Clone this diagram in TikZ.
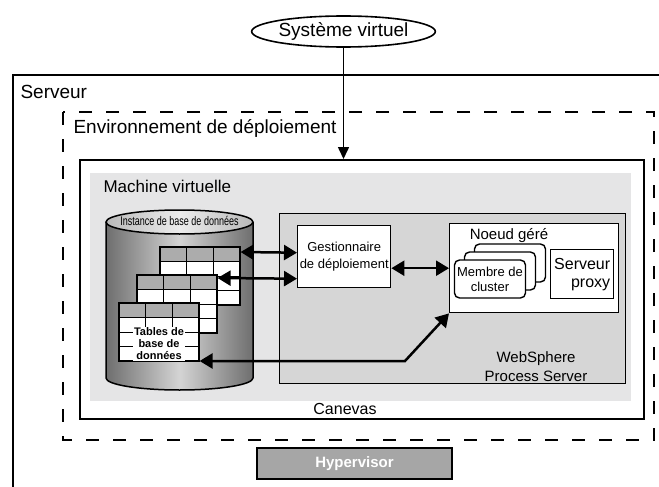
\documentclass[tikz,border=0pt]{standalone}
\usepackage{fontspec}
\setmainfont{Liberation Sans}
\usepackage{graphicx}
\usetikzlibrary{shapes.geometric, arrows.meta, calc, positioning}
\definecolor{vmgray}{RGB}{229,229,230}
\definecolor{wpsgray}{RGB}{214,214,214}
\definecolor{cellgray}{RGB}{172,172,172}
\definecolor{hypgray}{RGB}{166,166,166}
\definecolor{cyledge}{RGB}{110,110,110}
\definecolor{cylmid}{RGB}{212,212,212}
\newcommand{\fsz}[1]{\fontsize{#1}{#1}\selectfont}
\tikzstyle{box} = [rectangle, draw=black, line width=1.4pt, fill=white, inner sep=0pt]
\tikzstyle{member} = [box, rounded corners=5pt, minimum width=71pt, minimum height=38pt, align=center, font=\fontsize{13}{15}\selectfont]
\tikzstyle{dbtab} = [rectangle, draw=black, line width=1.2pt, fill=white, minimum width=80pt, minimum height=58pt, inner sep=0pt,
	path picture={
		\fill[cellgray] (path picture bounding box.north west) rectangle ([yshift=-14.5pt]path picture bounding box.north east);
		\foreach \k in {1,2,3} \draw[line width=1pt] ($(path picture bounding box.north west)!\k/4!(path picture bounding box.south west)$) -- ($(path picture bounding box.north east)!\k/4!(path picture bounding box.south east)$);
		\foreach \k in {1,2} \draw[line width=1pt] ($(path picture bounding box.north west)!\k/3!(path picture bounding box.north east)$) -- ($(path picture bounding box.south west)!\k/3!(path picture bounding box.south east)$);
	}]
\tikzstyle{arrow} = [line width=2.5pt, <->, >={Triangle[length=13pt,width=15pt]}]

\begin{document}
\begin{tikzpicture}[x=1pt, y=-1pt]
	\useasboundingbox (0,0) rectangle (659,487);
	% server and deployment environment
	\draw[line width=1.6pt] (13,487) -- (13,75) -- (659,75);
	\node (Serveur) [anchor=west, font=\fsz{19}] at (17,92) {Serveur};
	\draw[line width=2.6pt, dash pattern=on 13pt off 14pt] (63,112) rectangle (654,440);
	\node (Env) [anchor=west, font=\fsz{19}] at (70,128) {Environnement de déploiement};
	\node (Canvas) [box, line width=1.6pt, minimum width=564pt, minimum height=259pt, anchor=north west] at (79,159) {};
	\node (VM) [fill=vmgray, minimum width=541pt, minimum height=228pt, inner sep=0pt, anchor=north west] at (90,173) {};
	\node (VMLabel) [anchor=west, font=\fsz{17}] at (100,186) {Machine virtuelle};
	\node (CanvasLabel) [font=\fsz{16}] at (345,409) {Canevas};
	\node (VirtSys) [ellipse, draw, line width=1.6pt, minimum width=153pt, minimum height=31pt, inner sep=0pt, font=\fsz{19}] at (343.5,31.5) {Système virtuel};
	\draw[line width=1.6pt, -{Triangle[length=12pt,width=11pt]}] (VirtSys) -- (VirtSys |- Canvas.north);
	% database cylinder
	\shade[left color=cyledge, right color=cyledge, middle color=cylmid] (106,222) -- (106,378) arc[start angle=180, end angle=360, x radius=73.5pt, y radius=12pt] -- (253,222) -- cycle;
	\draw[line width=1.5pt] (106,222) -- (106,378) arc[start angle=180, end angle=360, x radius=73.5pt, y radius=12pt] -- (253,222);
	\shade[left color=gray!55, right color=gray!55, middle color=gray!15] (179.5,222) ellipse [x radius=73.5pt, y radius=12pt];
	\draw[line width=1.5pt] (179.5,222) ellipse [x radius=73.5pt, y radius=12pt];
	\node (DBInst) [font=\fsz{12.5}] at (179.5,221) {\scalebox{0.72}[1]{Instance de base de données}};
	\node (TabBack) [dbtab] at (200,276) {};
	\node (TabMid) [dbtab] at (177,304) {};
	\node (TabFront) [dbtab] at (159,332) {};
	\node (TabLabel) [fill=white, inner sep=1pt, align=center, font=\bfseries\fontsize{11}{12}\selectfont] at (159,344) {Tables de\\base de\\données};
	% websphere
	\node (WPS) [box, fill=wpsgray, minimum width=346pt, minimum height=170pt, anchor=north west] at (279,213) {};
	\node (WPSLabel) [align=center, font=\fontsize{15}{19}\selectfont] at (536,367) {WebSphere\\Process Server};
	\node (DMgr) [box, minimum width=93pt, minimum height=62pt, align=center, font=\fontsize{13}{17}\selectfont, anchor=north west] at (297,225) {Gestionnaire\\de déploiement};
	\node (Node) [box, minimum width=169pt, minimum height=89pt, anchor=north west] at (449,223) {};
	\node (NodeLabel) [font=\fsz{15}] at (509,236) {Noeud géré};
	\node (Proxy) [box, minimum width=63pt, minimum height=49pt, align=right, font=\fontsize{16}{18}\selectfont, anchor=north west] at (550,249) {Serveur\\proxy};
	\node (Member3) [member] at (510,263) {};
	\node (Member2) [member] at (500,271) {};
	\node (Member) [member] at (490,279) {Membre de\\cluster};
	% connections
	\coordinate (Bend) at (405,361);
	\draw [arrow] ([yshift=24pt]TabBack.east) -- ([yshift=4pt]DMgr.west);
	\draw [arrow] ([yshift=26pt]TabMid.east) -- ([yshift=-22pt]DMgr.west);
	\draw [arrow] (DMgr.east |- Node.west) -- (Node.west);
	\draw [arrow] ([yshift=-29pt]TabFront.east) -- (Bend) -- (Node.south west);
	\node (Hyper) [box, fill=hypgray, minimum width=195pt, minimum height=31pt, text=white, font=\bfseries\fsz{15}] at (354.5,463.5) {Hypervisor};
\end{tikzpicture}
\end{document}
